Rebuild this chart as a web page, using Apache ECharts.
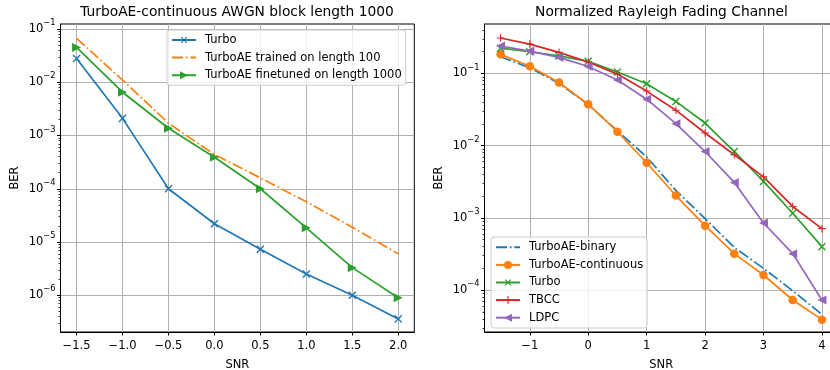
<!DOCTYPE html>
<html><head><meta charset="utf-8">
<script src="https://cdn.jsdelivr.net/npm/echarts@6/dist/echarts.min.js"></script>
<style>html,body{margin:0;padding:0;background:#fff}#c{width:830px;height:370px}</style>
</head><body><div id="c"></div>
<script>
// ---- Left chart: TurboAE-continuous AWGN block length 1000 ----
const snrLeft = [-1.5, -1.0, -0.5, 0.0, 0.5, 1.0, 1.5, 2.0];
const berTurboLeft = [0.028, 0.0021, 1.0e-4, 2.2e-5, 7.3e-6, 2.5e-6, 1.0e-6, 3.6e-7];
const berTrained100 = [0.067, 0.011, 0.0017, 4.4e-4, 1.6e-4, 5.7e-5, 1.9e-5, 6.0e-6];
const berFinetuned1000 = [0.045, 0.0065, 0.00137, 3.9e-4, 1.0e-4, 1.85e-5, 3.3e-6, 9.0e-7];
const leftXTicks = [-1.5, -1.0, -0.5, 0.0, 0.5, 1.0, 1.5, 2.0];
const leftYTickExps = [-6, -5, -4, -3, -2, -1];
const leftNames = ['Turbo', 'TurboAE trained on length 100', 'TurboAE finetuned on length 1000'];

// ---- Right chart: Normalized Rayleigh Fading Channel ----
const snrRight = [-1.5, -1.0, -0.5, 0, 0.5, 1, 1.5, 2, 2.5, 3, 3.5, 4];
const berAEbinary = [0.17, 0.12, 0.073, 0.037, 0.016, 0.0070, 0.0024, 9.8e-4, 3.9e-4, 2.0e-4, 9.8e-5, 4.6e-5];
const berAEcont = [0.184, 0.126, 0.075, 0.0375, 0.0156, 0.0058, 0.00204, 7.8e-4, 3.2e-4, 1.62e-4, 7.3e-5, 3.9e-5];
const berTurboRight = [0.224, 0.2, 0.175, 0.147, 0.105, 0.072, 0.041, 0.0206, 0.0083, 0.0032, 0.00116, 4.0e-4];
const berTBCC = [0.31, 0.255, 0.196, 0.144, 0.098, 0.057, 0.031, 0.015, 0.0075, 0.0037, 0.00144, 7.1e-4];
const berLDPC = [0.24, 0.204, 0.167, 0.125, 0.081, 0.044, 0.0202, 0.0083, 0.0031, 8.5e-4, 3.2e-4, 7.3e-5];
const rightXTicks = [-1, 0, 1, 2, 3, 4];
const rightYTickExps = [-4, -3, -2, -1];
// trailing space keeps the right "Turbo" distinct from the left one (trimmed in legend)
const rightNames = ['TurboAE-binary', 'TurboAE-continuous', 'Turbo ', 'TBCC', 'LDPC'];

const FONT = 'DejaVu Sans';
const C = {blue:'#1f77b4', orange:'#ff7f0e', green:'#2ca02c', red:'#d62728', purple:'#9467bd'};
const PLUS = 'path://M-0.14,-1H0.14V-0.14H1V0.14H0.14V1H-0.14V0.14H-1V-0.14H-0.14Z';
const DASHDOT = [11, 2.8, 1.7, 2.8];

function minorTicks(lo, hi) {
  const out = [];
  for (let n = Math.floor(lo) - 1; n <= Math.ceil(hi); n++) {
    for (let k = 2; k <= 9; k++) {
      const v = n + Math.log10(k);
      if (v > lo && v < hi) out.push(v);
    }
  }
  return out;
}
const minus = s => String(s).replace('-', '\u2212');

function series(name, xs, ys, color, idx, extra) {
  return Object.assign({
    type: 'line', name: name,
    xAxisIndex: idx, yAxisIndex: idx * 2,
    data: xs.map((x, i) => [x, Math.log10(ys[i])]),
    lineStyle: {color: color, width: 1.7},
    itemStyle: {color: color},
    symbolSize: 8,
    animation: false, silent: true, z: 3
  }, extra);
}

const Y = [[-6.69, -0.906], [-4.58, -0.315]];
const X = [[-1.675, 2.175], [-1.775, 4.275]];

function xAxis(idx, ticks, fmt) {
  return {
    type: 'value', gridIndex: idx, min: X[idx][0], max: X[idx][1],
    name: 'SNR', nameLocation: 'middle', nameGap: 23,
    nameTextStyle: {fontFamily: FONT, fontSize: 11.5, color: '#000', lineHeight: 14},
    axisLine: {show: true, onZero: false, lineStyle: {color: '#000', width: 1}},
    axisTick: {show: true, length: 3.5, customValues: ticks, lineStyle: {color: '#000', width: 1}},
    axisLabel: {customValues: ticks, formatter: v => minus(fmt(v)), margin: 7,
      fontFamily: FONT, fontSize: 11.5, color: '#000', lineHeight: 14},
    splitLine: {show: true, lineStyle: {color: '#b0b0b0', width: 1}}
  };
}
function yAxes(idx, exps) {
  const rich = {
    b: {fontFamily: FONT, fontSize: 11.5, color: '#000', lineHeight: 20, verticalAlign: 'middle'},
    s: {fontFamily: FONT, fontSize: 8.3, color: '#000', lineHeight: 12, verticalAlign: 'top'}
  };
  return [{
    type: 'value', gridIndex: idx, min: Y[idx][0], max: Y[idx][1],
    name: 'BER', nameLocation: 'middle', nameGap: 38.5,
    nameTextStyle: {fontFamily: FONT, fontSize: 11.5, color: '#000', lineHeight: 14},
    axisLine: {show: true, onZero: false, lineStyle: {color: '#000', width: 1}},
    axisTick: {show: true, length: 3.5, customValues: exps, lineStyle: {color: '#000', width: 1}},
    axisLabel: {customValues: exps, margin: 5,
      formatter: v => '{b|10}{s|' + minus(Math.round(v)) + '}', rich: rich},
    splitLine: {show: true, lineStyle: {color: '#b0b0b0', width: 1}}
  }, {
    type: 'value', gridIndex: idx, min: Y[idx][0], max: Y[idx][1], position: 'left',
    axisLine: {show: false, onZero: false},
    axisTick: {show: true, length: 2, customValues: minorTicks(Y[idx][0], Y[idx][1]), lineStyle: {color: '#000', width: 0.8}},
    axisLabel: {show: false},
    splitLine: {show: false}
  }];
}

const legendBase = {
  orient: 'vertical', itemWidth: 24, itemHeight: 10, itemGap: 3.6,
  backgroundColor: 'rgba(255,255,255,0.8)', borderColor: '#cccccc', borderWidth: 1, borderRadius: 3,
  textStyle: {fontFamily: FONT, fontSize: 11.5, color: '#000', lineHeight: 14, padding: [0, 0, 0, 4]},
  formatter: n => n.trim(),
  selectedMode: false
};

const gridBase = {top: 24, height: 308, show: true, borderColor: '#000', borderWidth: 1,
  backgroundColor: 'transparent', containLabel: false, outerBoundsMode: 'none'};

const option = {
  backgroundColor: '#fff',
  animation: false,
  title: [
    {text: 'TurboAE-continuous AWGN block length 1000', left: 237, top: 5.5, textAlign: 'center', padding: 0,
      textStyle: {fontFamily: FONT, fontSize: 13.8, fontWeight: 'normal', color: '#000'}},
    {text: 'Normalized Rayleigh Fading Channel', left: 661.5, top: 5.5, textAlign: 'center', padding: 0,
      textStyle: {fontFamily: FONT, fontSize: 13.8, fontWeight: 'normal', color: '#000'}}
  ],
  grid: [
    Object.assign({}, gridBase, {left: 60.5, width: 353.8}),
    Object.assign({}, gridBase, {left: 484.5, width: 353.5})
  ],
  xAxis: [xAxis(0, leftXTicks, v => v.toFixed(1)), xAxis(1, rightXTicks, v => String(Math.round(v)))],
  yAxis: yAxes(0, leftYTickExps).concat(yAxes(1, rightYTickExps)),
  legend: [
    Object.assign({}, legendBase, {left: 167, top: 30, padding: [3, 4, 3, 4],
      data: [leftNames[0], {name: leftNames[1], itemStyle: {opacity: 0}}, leftNames[2]]}),
    Object.assign({}, legendBase, {left: 491, top: 237, padding: [3.3, 4, 3.3, 4],
      data: [{name: rightNames[0], itemStyle: {opacity: 0}}, rightNames[1], rightNames[2], rightNames[3], rightNames[4]]})
  ],
  series: [
    series(leftNames[0], snrLeft, berTurboLeft, C.blue, 0, {symbol: PLUS, symbolRotate: 45, symbolSize: 10}),
    series(leftNames[1], snrLeft, berTrained100, C.orange, 0, {symbol: 'none', lineStyle: {color: C.orange, width: 1.7, type: DASHDOT}}),
    series(leftNames[2], snrLeft, berFinetuned1000, C.green, 0, {symbol: 'triangle', symbolRotate: -90, symbolSize: 9}),
    series(rightNames[0], snrRight, berAEbinary, C.blue, 1, {symbol: 'none', lineStyle: {color: C.blue, width: 1.7, type: DASHDOT}}),
    series(rightNames[1], snrRight, berAEcont, C.orange, 1, {symbol: 'circle', symbolSize: 8.5}),
    series(rightNames[2], snrRight, berTurboRight, C.green, 1, {symbol: PLUS, symbolRotate: 45, symbolSize: 10}),
    series(rightNames[3], snrRight, berTBCC, C.red, 1, {symbol: PLUS, symbolSize: 7.5}),
    series(rightNames[4], snrRight, berLDPC, C.purple, 1, {symbol: 'triangle', symbolRotate: 90, symbolSize: 9})
  ]
};
const chart = echarts.init(document.getElementById('c'), null, {renderer: 'canvas'});
chart.setOption(option);
</script></body></html>
